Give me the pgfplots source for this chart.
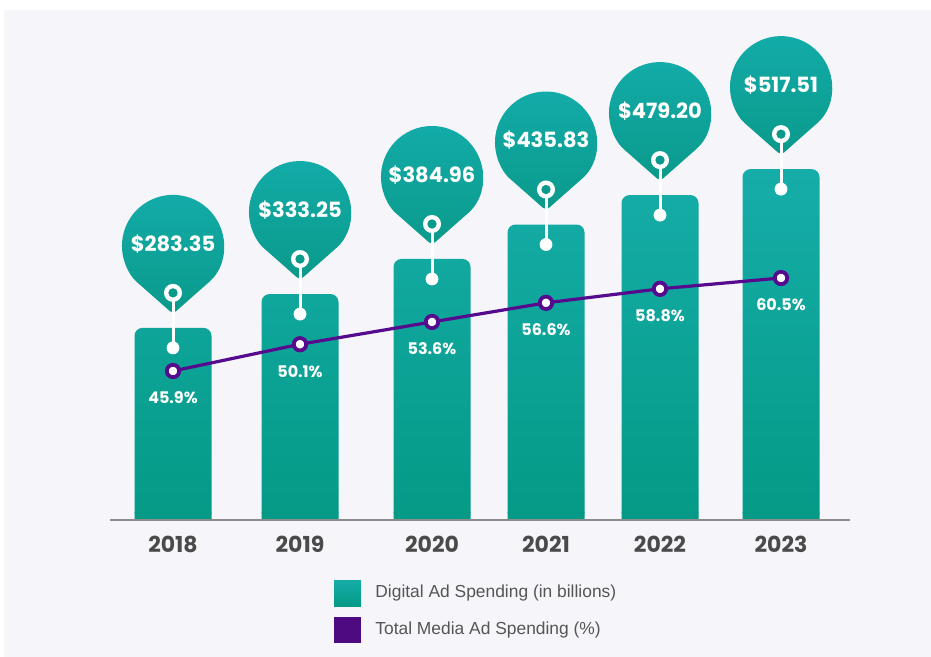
\documentclass[border=0pt]{standalone}
\usepackage{pgfplots}
\pgfplotsset{compat=1.18}
\usepackage{pgfplotstable}
\usepackage{fontspec}
\setmainfont{Liberation Sans}
\newfontfamily\pop{Poppins}

\definecolor{bgc}{HTML}{F6F5FA}
\definecolor{tealtop}{HTML}{16ADA9}
\definecolor{tealbot}{HTML}{049A86}
\definecolor{pintop}{HTML}{13ACA9}
\definecolor{pinbot}{HTML}{0A9A8B}
\definecolor{purp}{HTML}{560B8E}
\definecolor{yeargray}{HTML}{4A4A4A}
\definecolor{leggray}{HTML}{555555}

% pos = bar centre (px of the original), spend in billions, share in %
\pgfplotstableread{
pos year spend share
173 2018 283.35 45.9
300 2019 333.25 50.1
432 2020 384.96 53.6
546 2021 435.83 56.6
660 2022 479.20 58.8
781 2023 517.51 60.5
}\adtable

% balloon pin drawn above each bar top (origin = bar top)
\pgfdeclareplotmark{pin}{%
  \shade[draw=none,top color=pintop,bottom color=pinbot,rounded corners=2pt]
    (16.85pt,21.875pt) arc[start angle=-48.6,end angle=228.6,radius=25.5pt]
    -- (0pt,7pt) -- cycle;
  \draw[white,line width=1.5pt] (0pt,17.5pt) -- (0pt,-10pt);
  \fill[white] (0pt,17.5pt) circle[radius=4.3pt];
  \fill[pinbot] (0pt,17.5pt) circle[radius=2.1pt];
  \fill[white] (0pt,-10pt) circle[radius=3pt];
}

\begin{document}
\begin{tikzpicture}
\useasboundingbox (0pt,0pt) rectangle (465.5pt,-328.5pt);
\fill[white] (0pt,0pt) rectangle (465.5pt,-328.5pt);
\fill[bgc] (2pt,-5pt) rectangle (465.5pt,-328.5pt);

\begin{axis}[
  at={(55pt,-260pt)}, anchor=south west,
  scale only axis, width=370pt, height=250pt,
  xmin=110, xmax=850, ymin=0, ymax=737.46,
  axis x line=bottom, axis y line=none,
  x axis line style={-, draw=black!45, line width=1pt},
  xtick=data,
  xticklabels from table={\adtable}{year},
  major tick length=0pt,
  xticklabel style={font=\pop\bfseries\fontsize{11}{11}\selectfont, text=yeargray, yshift=-4.5pt},
  /pgf/number format/assume math mode=true,
  clip=false,
]
\addplot[ybar, bar width=38.5pt, bar shift=0pt, draw=none,
  top color=tealtop, bottom color=tealbot, rounded corners=4pt]
  table[x=pos,y=spend]{\adtable};
% square off the bottom corners of the bars
\addplot[ybar, bar width=38.5pt, bar shift=0pt, draw=none, fill=tealbot]
  coordinates {(173,12) (300,12) (432,12) (546,12) (660,12) (781,12)};
\addplot[only marks, mark=pin, mark options={draw=none}, point meta=\thisrow{spend},
  nodes near coords={\$\pgfmathprintnumber[fixed,fixed zerofill,precision=2]{\pgfplotspointmeta}},
  every node near coord/.append style={anchor=center, yshift=42pt, text=white,
    font=\pop\bfseries\fontsize{10.5}{10.5}\selectfont}]
  table[x=pos,y=spend]{\adtable};
\draw[black!45, line width=1pt] (axis cs:110,0) -- (axis cs:850,0);
\end{axis}

\begin{axis}[
  at={(55pt,-260pt)}, anchor=south west,
  scale only axis, width=370pt, height=250pt,
  xmin=110, xmax=850, ymin=22.51, ymax=101.0,
  hide axis, clip=false,
  /pgf/number format/assume math mode=true,
]
\addplot[purp, line width=1.6pt, mark=*, mark size=3.1pt,
  mark options={fill=white, draw=purp, line width=1.9pt},
  point meta=\thisrow{share},
  nodes near coords={\pgfmathprintnumber[fixed,fixed zerofill,precision=1]{\pgfplotspointmeta}\%},
  every node near coord/.append style={anchor=center, yshift=-13.5pt, text=white,
    font=\pop\bfseries\fontsize{8}{8}\selectfont}]
  table[x=pos,y=share]{\adtable};
\end{axis}

% legend
\shade[top color=tealtop, bottom color=tealbot] (167pt,-290pt) rectangle (180.5pt,-303pt);
\fill[purp!90!black] (167pt,-308.5pt) rectangle (180.5pt,-321.5pt);
\node[anchor=west, text=leggray, font=\fontsize{8.7}{8.7}\selectfont, inner sep=0pt]
  at (187.5pt,-296.5pt) {Digital Ad Spending (in billions)};
\node[anchor=west, text=leggray, font=\fontsize{8.7}{8.7}\selectfont, inner sep=0pt]
  at (187.5pt,-315pt) {Total Media Ad Spending (\%)};
\end{tikzpicture}
\end{document}
